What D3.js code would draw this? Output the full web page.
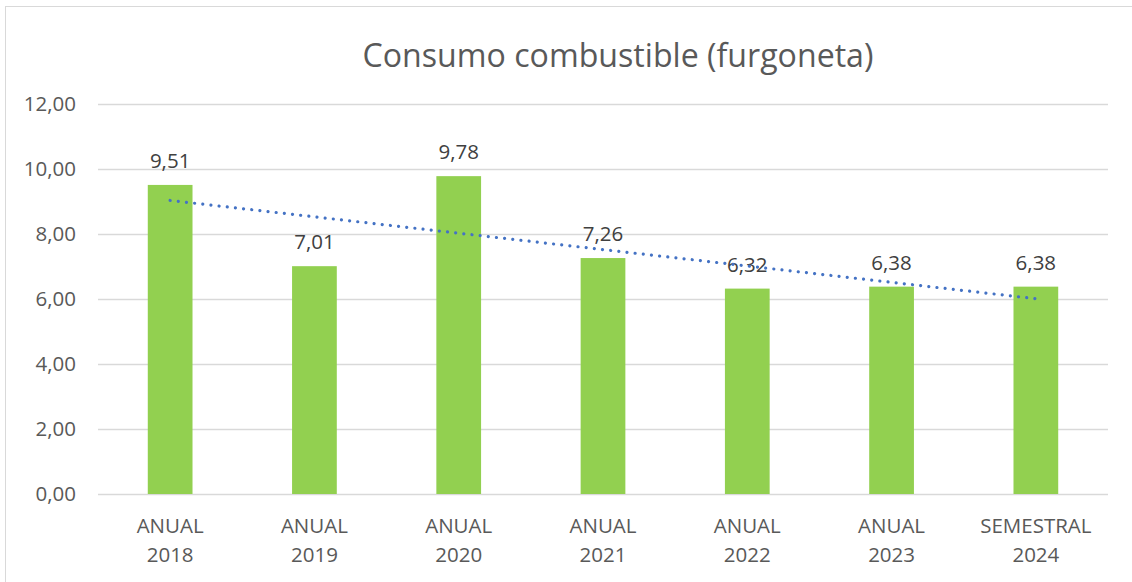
<!DOCTYPE html>
<html><head><meta charset="utf-8">
<script src="https://cdn.jsdelivr.net/npm/d3@7"></script>
<style>body{margin:0;background:#fff}svg{display:block}</style>
</head><body>
<svg id="c" width="1132" height="582"></svg>
<script>
const categories = [["ANUAL","2018"],["ANUAL","2019"],["ANUAL","2020"],["ANUAL","2021"],["ANUAL","2022"],["ANUAL","2023"],["SEMESTRAL","2024"]];
const values = [9.51, 7.01, 9.78, 7.26, 6.32, 6.38, 6.38];
const yTicks = [0, 2, 4, 6, 8, 10, 12];
const title = "Consumo combustible (furgoneta)";

(function(){
const svg = d3.select("#c");
const font = "Open Sans, sans-serif";
const fs = 20.5;
const fmt = v => v.toFixed(2).replace(".", ",");

svg.append("rect").attr("x",5.5).attr("y",6.5).attr("width",1140).attr("height",600)
  .attr("fill","#fff").attr("stroke","#d9d9d9").attr("stroke-width",1);

const pl = 98, pr = 1108, pt = 104, pb = 494;
const x = d3.scaleBand().domain(d3.range(values.length)).range([pl, pr]).paddingInner(0.69).paddingOuter(0.345);
const y = d3.scaleLinear().domain([0, 12]).range([pb, pt]);

svg.append("g").selectAll("line").data(yTicks).join("line")
  .attr("x1", pl).attr("x2", pr)
  .attr("y1", d => Math.round(y(d)) + 0.5).attr("y2", d => Math.round(y(d)) + 0.5)
  .attr("stroke", "#d9d9d9").attr("stroke-width", 1.5);

const yAxis = d3.axisLeft(y).tickValues(yTicks).tickFormat(fmt).tickSize(0).tickPadding(0);
const ya = svg.append("g").attr("transform", `translate(76,0)`).call(yAxis);
ya.select(".domain").remove();
ya.selectAll("text").attr("font-family", font).attr("font-size", fs).attr("fill", "#595959");

svg.append("g").selectAll("rect").data(values).join("rect")
  .attr("x", (d,i) => x(i)).attr("width", x.bandwidth())
  .attr("y", d => y(d)).attr("height", d => y(0) - y(d))
  .attr("fill", "#92d050");

svg.append("g").selectAll("text").data(values).join("text")
  .attr("x", (d,i) => x(i) + x.bandwidth()/2).attr("y", d => y(d) - 17)
  .attr("text-anchor", "middle").attr("font-family", font).attr("font-size", fs)
  .attr("fill", "#404040").text(fmt);

const xs = values.map((d,i) => i + 1);
const mx = d3.mean(xs), my = d3.mean(values);
const slope = d3.sum(xs, (xv,i) => (xv-mx)*(values[i]-my)) / d3.sum(xs, xv => (xv-mx)*(xv-mx));
const icpt = my - slope*mx;
const cx = i => x(i) + x.bandwidth()/2;
svg.append("line")
  .attr("x1", cx(0)).attr("y1", y(icpt + slope*1))
  .attr("x2", cx(values.length-1)).attr("y2", y(icpt + slope*values.length))
  .attr("stroke", "#4472c4").attr("stroke-width", 3.2)
  .attr("stroke-linecap", "round").attr("stroke-dasharray", "0.01 8.2");

const xl = svg.append("g");
categories.forEach((c,i) => {
  const t = xl.append("text").attr("text-anchor","middle").attr("font-family", font)
    .attr("font-size", fs).attr("fill","#595959");
  t.append("tspan").attr("x", cx(i)).attr("y", 533).text(c[0]);
  t.append("tspan").attr("x", cx(i)).attr("y", 562).text(c[1]);
});

const tt = svg.append("text").attr("x", 618).attr("y", 67).attr("text-anchor","middle")
  .attr("font-family", font).attr("font-size", 28).attr("fill","#595959").text(title);
const w = tt.node().getComputedTextLength();
tt.attr("font-size", 28 * 511 / w);
})();
</script>
</body></html>
